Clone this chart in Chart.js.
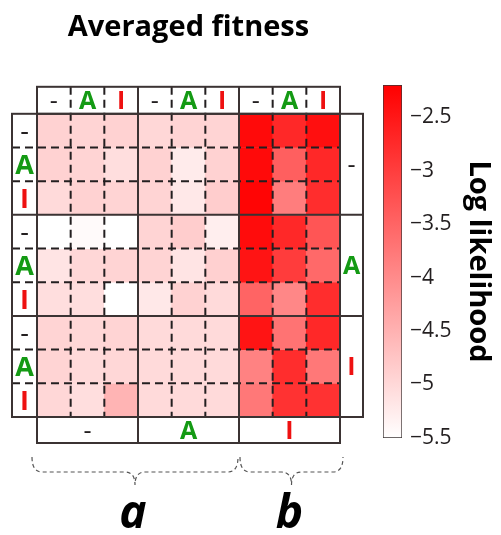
<!DOCTYPE html>
<html lang="en">

<head>
  <meta charset="UTF-8" />
  <title>Averaged fitness</title>
  <script src="https://cdn.jsdelivr.net/npm/chart.js"></script>
  <style>
    body { margin: 0; background: #fff; }
    #wrap { position: relative; width: 501px; height: 535px; }
    #heat { position: absolute; left: 0; top: 0; }
    #barra { position: absolute; left: 370px; top: 0; }
  </style>
</head>

<body>
<div id="wrap">
  <canvas id="heat" width="370" height="535"></canvas>
  <canvas id="barra" width="131" height="535"></canvas>
</div>
<script>
  // rotulos das linhas / colunas
  const colunas = ['-', 'A', 'I', '-', 'A', 'I', '-', 'A', 'I'];
  const linhas = ['-', 'A', 'I', '-', 'A', 'I', '-', 'A', 'I'];
  const blocos = ['-', 'A', 'I'];
  const grupos = ['a', 'b'];
  const grupoCols = [[0, 6], [6, 9]];

  // log likelihood de cada celula (linha por linha)
  const linha0 = [-4.92, -4.94, -4.92, -4.98, -4.94, -4.94, -2.33, -2.72, -2.39];
  const linha1 = [-4.92, -4.94, -5.07, -4.92, -5.24, -4.92, -2.33, -3.43, -2.72];
  const linha2 = [-5.02, -4.92, -4.94, -4.94, -5.20, -4.85, -2.27, -3.82, -2.78];
  const linha3 = [-5.50, -5.44, -5.50, -4.94, -4.85, -5.28, -2.36, -2.72, -3.30];
  const linha4 = [-5.15, -4.98, -4.94, -4.94, -5.15, -4.89, -2.46, -2.98, -3.56];
  const linha5 = [-5.07, -5.07, -5.50, -5.20, -4.92, -5.02, -3.50, -3.95, -2.78];
  const linha6 = [-4.94, -4.98, -4.94, -5.02, -5.02, -5.02, -2.46, -3.69, -2.72];
  const linha7 = [-4.94, -5.02, -4.98, -5.02, -5.02, -5.02, -3.88, -2.78, -3.75];
  const linha8 = [-4.98, -5.07, -4.53, -5.02, -5.02, -5.02, -3.75, -2.85, -2.85];
  const valores = [linha0, linha1, linha2, linha3, linha4, linha5, linha6, linha7, linha8];

  const escalaMin = -5.5;
  const escalaMax = -2.2;
  const ticksBarra = [-5.5, -5, -4.5, -4, -3.5, -3, -2.5];

  const corLetra = { '-': '#231f20', 'A': '#149a14', 'I': '#ee1111' };
  const fonte = "'Open Sans', sans-serif";

  function cor(v) {
    let t = (v - escalaMin) / (escalaMax - escalaMin);
    t = Math.max(0, Math.min(1, t));
    const g = Math.round(255 * (1 - t));
    return `rgb(255, ${g}, ${g})`;
  }

  function letra(ctx, txt, x, yCentro, tam) {
    // o traço é fino no original
    ctx.font = txt === '-' ? `${tam}px ${fonte}` : `bold ${tam}px ${fonte}`;
    ctx.fillStyle = corLetra[txt];
    ctx.textAlign = 'center';
    ctx.textBaseline = 'alphabetic';
    ctx.fillText(txt, x, yCentro + tam * 0.36);
  }

  const moldura = {
    id: 'moldura',
    afterDatasetsDraw(chart) {
      const { ctx, chartArea: a, scales: { x, y } } = chart;
      const cw = x.getPixelForValue(1) - x.getPixelForValue(0);
      const bx = j => x.getPixelForValue(0) - cw / 2 + j * cw;
      const by = i => y.getPixelForValue(i);
      const tTop = a.top - 27, lLeft = a.left - 25, rRight = a.right + 23, bBottom = a.bottom + 26;

      ctx.save();
      // linhas tracejadas dentro dos blocos
      ctx.setLineDash([8, 5]);
      ctx.lineWidth = 2;
      ctx.strokeStyle = '#231f20';
      for (let k = 1; k < 9; k++) {
        if (k % 3 === 0) continue;
        ctx.beginPath();
        ctx.moveTo(lLeft, by(k));
        ctx.lineTo(a.right, by(k));
        ctx.stroke();
        ctx.beginPath();
        ctx.moveTo(bx(k), tTop);
        ctx.lineTo(bx(k), a.bottom);
        ctx.stroke();
      }

      // bordas solidas
      ctx.setLineDash([]);
      ctx.strokeStyle = '#3b3333';
      ctx.strokeRect(a.left, a.top, a.right - a.left, a.bottom - a.top);
      ctx.strokeRect(a.left, tTop, a.right - a.left, a.top - tTop);
      ctx.strokeRect(lLeft, a.top, a.left - lLeft, a.bottom - a.top);
      ctx.strokeRect(a.right, a.top, rRight - a.right, a.bottom - a.top);
      ctx.strokeRect(a.left, a.bottom, a.right - a.left, bBottom - a.bottom);
      [3, 6].forEach(k => {
        ctx.beginPath();
        ctx.moveTo(lLeft, by(k));
        ctx.lineTo(rRight, by(k));
        ctx.stroke();
        ctx.beginPath();
        ctx.moveTo(bx(k), tTop);
        ctx.lineTo(bx(k), bBottom);
        ctx.stroke();
      });

      // letras
      colunas.forEach((c, j) => letra(ctx, c, bx(j) + cw / 2, (tTop + a.top) / 2, 25));
      linhas.forEach((c, i) => letra(ctx, c, (lLeft + a.left) / 2, (by(i) + by(i + 1)) / 2, 27));
      blocos.forEach((c, b) => {
        letra(ctx, c, (a.right + rRight) / 2, (by(b * 3) + by(b * 3 + 3)) / 2, 25);
        letra(ctx, c, (bx(b * 3) + bx(b * 3 + 3)) / 2, (a.bottom + bBottom) / 2, 25);
      });

      // chaves a / b
      ctx.setLineDash([4, 3]);
      ctx.lineWidth = 1.2;
      ctx.strokeStyle = '#555';
      const yTop = a.bottom + 40, yMid = a.bottom + 55, yTip = a.bottom + 68;
      grupos.forEach((g, n) => {
        const x0 = bx(grupoCols[n][0]) - (n === 0 ? 5 : -1);
        const x1 = bx(grupoCols[n][1]) + (n === 0 ? -1 : 3);
        const xm = (x0 + x1) / 2;
        ctx.beginPath();
        ctx.moveTo(x0, yTop);
        ctx.quadraticCurveTo(x0, yMid, x0 + 10, yMid);
        ctx.lineTo(xm - 10, yMid);
        ctx.quadraticCurveTo(xm, yMid, xm, yTip);
        ctx.quadraticCurveTo(xm, yMid, xm + 10, yMid);
        ctx.lineTo(x1 - 10, yMid);
        ctx.quadraticCurveTo(x1, yMid, x1, yTop);
        ctx.stroke();

        ctx.font = `italic bold 46px ${fonte}`;
        ctx.fillStyle = '#000';
        ctx.textAlign = 'center';
        ctx.textBaseline = 'alphabetic';
        ctx.fillText(g, xm - 2, a.bottom + 111);
      });
      ctx.restore();
    }
  };

  const heat = new Chart(document.getElementById('heat'), {
    type: 'bar',
    data: {
      labels: colunas,
      datasets: valores.map((linha, i) => ({
        label: linhas[i],
        data: linha.map(() => [i, i + 1]),
        backgroundColor: linha.map(cor),
        borderWidth: 0,
        grouped: false,
        barPercentage: 1,
        categoryPercentage: 1
      }))
    },
    options: {
      responsive: false,
      animation: false,
      layout: { padding: { top: 0, left: 37, right: 30, bottom: 118 } },
      scales: {
        x: { display: false },
        y: { display: false, min: 0, max: 9, reverse: true }
      },
      plugins: {
        legend: { display: false },
        tooltip: { enabled: false },
        title: {
          display: true,
          text: 'Averaged fitness',
          color: '#000',
          font: { family: fonte, size: 29, weight: 'bold' },
          padding: { top: 10, bottom: 69 }
        }
      }
    },
    plugins: [moldura]
  });

  const barra = new Chart(document.getElementById('barra'), {
    type: 'bar',
    data: {
      labels: [''],
      datasets: [{
        data: [[escalaMin, escalaMax]],
        backgroundColor: (c) => {
          const { chart } = c;
          if (!chart.chartArea) return '#fff';
          const y = chart.scales.y;
          const grad = chart.ctx.createLinearGradient(0, y.getPixelForValue(escalaMin), 0, y.getPixelForValue(escalaMax));
          grad.addColorStop(0, cor(escalaMin));
          grad.addColorStop(1, cor(escalaMax));
          return grad;
        },
        borderColor: '#3b3333',
        borderWidth: 1,
        borderSkipped: false,
        barPercentage: 1,
        categoryPercentage: 1
      }]
    },
    options: {
      responsive: false,
      animation: false,
      layout: { padding: { top: 85, left: 13, right: 0, bottom: 97 } },
      scales: {
        x: { display: false },
        y: {
          position: 'right',
          min: escalaMin,
          max: escalaMax,
          afterBuildTicks: (s) => { s.ticks = ticksBarra.map(v => ({ value: v })); },
          afterFit: (s) => { s.width = 99; },
          grid: { display: false, drawTicks: false },
          border: { display: false },
          ticks: {
            padding: 8,
            color: '#231f20',
            font: { family: fonte, size: 21 },
            callback: (v) => String(v).replace('-', '\u2212')
          },
          title: {
            display: true,
            text: 'Log likelihood',
            color: '#000',
            font: { family: fonte, size: 29, weight: 'bold' },
            padding: { top: 5, bottom: 0 }
          }
        }
      },
      plugins: {
        legend: { display: false },
        tooltip: { enabled: false }
      }
    }
  });
</script>
</body>

</html>
